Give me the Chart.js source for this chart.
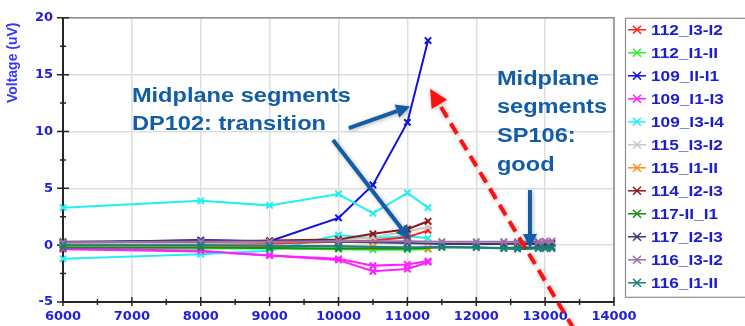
<!DOCTYPE html>
<html>
<head>
<meta charset="utf-8">
<script src="https://cdn.jsdelivr.net/npm/chart.js@4/dist/chart.umd.min.js"></script>
<style>
  html, body { margin: 0; background: #fff; }
  #wrap { width: 745px; height: 326px; }
</style>
</head>
<body>
<div id="wrap"><canvas id="chart"></canvas></div>
<script>
/* field sweep: x = current (A), y = voltage (uV) */
const X_DP = [6000, 8000, 9000, 10000, 10500, 11000, 11300];
const X_SP = [6000, 8000, 9000, 10000, 11000, 11500, 12000, 12400, 12600, 12900, 13000, 13100];

const V_112_I3I2 = [0.1, 0.15, 0.15, 0.3, 0.4, 0.7, 1.3];
const V_112_I1II = [-0.2, -0.3, -0.3, -0.35, -0.4, -0.4, -0.35];
const V_109_III1 = [0.2, 0.45, 0.35, 2.4, 5.3, 10.8, 18.0];
const V_109_I1I3 = [-0.3, -0.5, -0.9, -1.2, -1.8, -1.7, -1.4];
const V_109_I1I3_B = [-0.35, -0.55, -0.9, -1.3, -2.3, -2.1, -1.5];
const V_109_I3I4 = [3.3, 3.9, 3.5, 4.5, 2.8, 4.6, 3.3];
const V_109_I3I4_B = [-1.2, -0.8, -0.5, 0.9, 0.6, 0.8, 0.6];
const V_115_I3I2 = [0.15, 0.2, 0.25, 0.4, 0.7, 1.2, 1.6];
const V_115_I1II = [0.0, -0.05, -0.1, -0.1, -0.15, -0.2, -0.3];
const V_114_I2I3 = [0.25, 0.3, 0.4, 0.5, 1.0, 1.4, 2.1];
const V_117_III1 = [-0.2, -0.2, -0.25, -0.3, -0.3, -0.2, -0.2, -0.25, -0.2, -0.2, -0.2, -0.15];
const V_117_I2I3 = [0.3, 0.4, 0.35, 0.3, 0.2, 0.1, 0.1, 0.1, 0.15, 0.1, 0.1, 0.15];
const V_116_I3I2 = [0.25, 0.3, 0.3, 0.35, 0.35, 0.3, 0.3, 0.3, 0.3, 0.3, 0.35, 0.35];
const V_116_I1II = [0.0, 0.0, -0.05, -0.1, -0.2, -0.15, -0.2, -0.3, -0.35, -0.3, -0.3, -0.3];

const NAMES  = ["112_I3-I2", "112_I1-II", "109_II-I1", "109_I1-I3", "109_I3-I4", "115_I3-I2",
                "115_I1-II", "114_I2-I3", "117-II_I1", "117_I2-I3", "116_I3-I2", "116_I1-II"];
const COLORS = ["#ff2020", "#33ee33", "#1010e0", "#ff20ff", "#22f0f0", "#c8c8c8",
                "#ff8c1a", "#8b1a1a", "#1a8a1a", "#3a3a70", "#a070a8", "#1a8080"];
const XS = [X_DP, X_DP, X_DP, X_DP, X_DP, X_DP, X_DP, X_DP, X_SP, X_SP, X_SP, X_SP];
const YS = [V_112_I3I2, V_112_I1II, V_109_III1, V_109_I1I3, V_109_I3I4, V_115_I3I2,
            V_115_I1II, V_114_I2I3, V_117_III1, V_117_I2I3, V_116_I3I2, V_116_I1II];
// second sweeps, same colour as series index, not in legend
const EXTRA = [{ of: 3, ys: V_109_I1I3_B }, { of: 4, ys: V_109_I3I4_B }];

const X_TICKS = { min: 6000, max: 14000, step: 1000 };
const Y_TICKS = { min: -5, max: 20, step: 5 };

const INK = "#2020d8";
const NOTE = "#135ca6";

const pts = (xs, ys) => xs.map((x, i) => ({ x, y: ys[i] }));
const ds = (label, color, data, inLegend, idx) => ({
  label, data, borderColor: color, backgroundColor: color,
  borderWidth: 2, pointStyle: "crossRot", pointRadius: 4.5, pointBorderWidth: 2,
  pointHoverRadius: 4.5, clip: 6, inLegend, order: 40 - idx, tension: 0
});

const datasets = [];
EXTRA.forEach((e, i) => datasets.push(ds(NAMES[e.of] + " b", COLORS[e.of], pts(X_DP, e.ys), false, i)));
NAMES.forEach((n, i) => datasets.push(ds(n, COLORS[i], pts(XS[i], YS[i]), true, i + 2)));

function wideText(ctx, text, x, y, sx) {
  ctx.save(); ctx.translate(x, y); ctx.scale(sx, 1); ctx.fillText(text, 0, 0); ctx.restore();
}

function arrow(ctx, x1, y1, x2, y2, head, wing) {
  const ang = Math.atan2(y2 - y1, x2 - x1);
  const bx = x2 - head * Math.cos(ang), by = y2 - head * Math.sin(ang);
  ctx.beginPath(); ctx.moveTo(x1, y1); ctx.lineTo(bx, by); ctx.stroke();
  ctx.save(); ctx.setLineDash([]);
  ctx.beginPath();
  ctx.moveTo(x2, y2);
  ctx.lineTo(bx + wing * Math.sin(ang), by - wing * Math.cos(ang));
  ctx.lineTo(bx - wing * Math.sin(ang), by + wing * Math.cos(ang));
  ctx.closePath(); ctx.fill();
  ctx.restore();
}

/* frame, axis lines and tick marks crossing the axes */
const axisDeco = {
  id: "axisDeco",
  beforeDatasetsDraw(chart) {
    const { ctx, chartArea: a, scales: { x, y } } = chart;
    ctx.save();
    ctx.strokeStyle = "#8c8c8c"; ctx.lineWidth = 1.5;
    ctx.beginPath(); ctx.moveTo(a.left, a.top); ctx.lineTo(a.right, a.top); ctx.lineTo(a.right, a.bottom); ctx.stroke();
    ctx.strokeStyle = "#262626"; ctx.lineWidth = 2;
    ctx.beginPath(); ctx.moveTo(a.left, a.top); ctx.lineTo(a.left, a.bottom); ctx.lineTo(a.right, a.bottom); ctx.stroke();
    ctx.lineWidth = 1.5;
    ctx.beginPath();
    for (let v = Y_TICKS.min; v <= Y_TICKS.max; v += Y_TICKS.step / 2) {
      const p = y.getPixelForValue(v), big = v % Y_TICKS.step === 0;
      ctx.moveTo(a.left - (big ? 6 : 3), p); ctx.lineTo(a.left + (big ? 6 : 3), p);
    }
    for (let v = X_TICKS.min; v <= X_TICKS.max; v += X_TICKS.step / 2) {
      const p = x.getPixelForValue(v), big = v % X_TICKS.step === 0;
      ctx.moveTo(p, a.bottom - (big ? 5 : 3)); ctx.lineTo(p, a.bottom + (big ? 4 : 3));
    }
    ctx.stroke();
    ctx.restore();
  },
  afterDraw(chart) {
    const { ctx, chartArea: a, scales: { x, y } } = chart;
    ctx.save();
    // y title, near the top of the axis
    ctx.fillStyle = "#3636ff";
    ctx.font = "bold 14px 'Liberation Sans', Arial, sans-serif";
    ctx.textAlign = "center"; ctx.textBaseline = "middle";
    ctx.translate(13, a.top + 45); ctx.rotate(-Math.PI / 2);
    ctx.fillText("Voltage (uV)", 0, 0);
    ctx.restore();

    // legend box
    ctx.save();
    const lx = a.right + 11, top = a.top, bottom = a.top + 279;
    ctx.fillStyle = "#fff"; ctx.fillRect(lx, top, 200, bottom - top);
    ctx.strokeStyle = "#8c8c8c"; ctx.lineWidth = 1.2; ctx.strokeRect(lx + 0.5, top + 0.5, 200, bottom - top);
    ctx.font = "bold 15px 'Liberation Sans', Arial, sans-serif";
    ctx.textBaseline = "middle"; ctx.textAlign = "left";
    chart.data.datasets.filter(d => d.inLegend).forEach((d, i) => {
      const cy = top + 12 + i * 23;
      ctx.strokeStyle = d.borderColor; ctx.lineWidth = 1.5;
      ctx.beginPath(); ctx.moveTo(lx + 3, cy); ctx.lineTo(lx + 21, cy); ctx.stroke();
      ctx.beginPath();
      ctx.moveTo(lx + 8, cy - 4); ctx.lineTo(lx + 16, cy + 4);
      ctx.moveTo(lx + 8, cy + 4); ctx.lineTo(lx + 16, cy - 4);
      ctx.stroke();
      ctx.fillStyle = "#1c1cd0";
      wideText(ctx, d.label, lx + 26, cy + 1, 1.15);
    });
    ctx.restore();

    // annotations
    ctx.save();
    ctx.fillStyle = NOTE;
    ctx.font = "bold 20px 'Liberation Sans', Arial, sans-serif";
    ctx.textBaseline = "middle"; ctx.textAlign = "left";
    NOTES.forEach(n => {
      const px = x.getPixelForValue(n.x), py = y.getPixelForValue(n.y);
      n.lines.forEach((t, k) => wideText(ctx, t, px, py + k * 28.7, 1.18));
    });
    ctx.shadowColor = "rgba(0,0,0,0.3)"; ctx.shadowBlur = 4; ctx.shadowOffsetX = 1; ctx.shadowOffsetY = 1;
    ctx.strokeStyle = NOTE; ctx.lineWidth = 4; ctx.lineCap = "butt";
    ARROWS.forEach(r => arrow(ctx, x.getPixelForValue(r[0]), y.getPixelForValue(r[1]),
                              x.getPixelForValue(r[2]), y.getPixelForValue(r[3]), 14, 7));
    ctx.strokeStyle = "#ff1010"; ctx.fillStyle = "#ff1010";
    ctx.setLineDash([12, 7]);
    arrow(ctx, x.getPixelForValue(RED_ARROW[0]), y.getPixelForValue(RED_ARROW[1]),
          x.getPixelForValue(RED_ARROW[2]), y.getPixelForValue(RED_ARROW[3]), 18, 9);
    ctx.restore();
  }
};

const NOTES = [
  { lines: ["Midplane segments", "DP102: transition"], x: 7000, y: 13.1 },
  { lines: ["Midplane", "segments", "SP106:", "good"], x: 12300, y: 14.6 }
];
// [x from, y from, x to, y to] in data units
const ARROWS = [
  [10150, 10.3, 11040, 12.2],
  [9920, 9.25, 11040, 0.5],
  [12780, 4.85, 12780, -0.25]
];
const RED_ARROW = [13420, -7.4, 11330, 13.75];

const tickFont = { family: "'DejaVu Sans', sans-serif", size: 13, weight: "bold" };

new Chart(document.getElementById("chart"), {
  type: "line",
  data: { datasets },
  options: {
    responsive: true, maintainAspectRatio: false, animation: false,
    layout: { padding: { top: 13, right: 131, left: 0, bottom: 0 } },
    plugins: { legend: { display: false }, tooltip: { enabled: false } },
    scales: {
      x: {
        type: "linear", min: X_TICKS.min, max: X_TICKS.max,
        ticks: { stepSize: X_TICKS.step, color: INK, font: tickFont, padding: 7, maxRotation: 0,
                 callback: v => String(v) },
        grid: { color: "#dedede", lineWidth: 1.5, drawTicks: false },
        border: { display: false },
        afterFit: s => { s.height = 24; }
      },
      y: {
        min: Y_TICKS.min, max: Y_TICKS.max,
        ticks: { stepSize: Y_TICKS.step, color: INK, font: tickFont, padding: 10 },
        grid: { color: "#dedede", lineWidth: 1.5, drawTicks: false },
        border: { display: false },
        afterFit: s => { s.width = 63; }
      }
    }
  },
  plugins: [axisDeco]
});
</script>
</body>
</html>
